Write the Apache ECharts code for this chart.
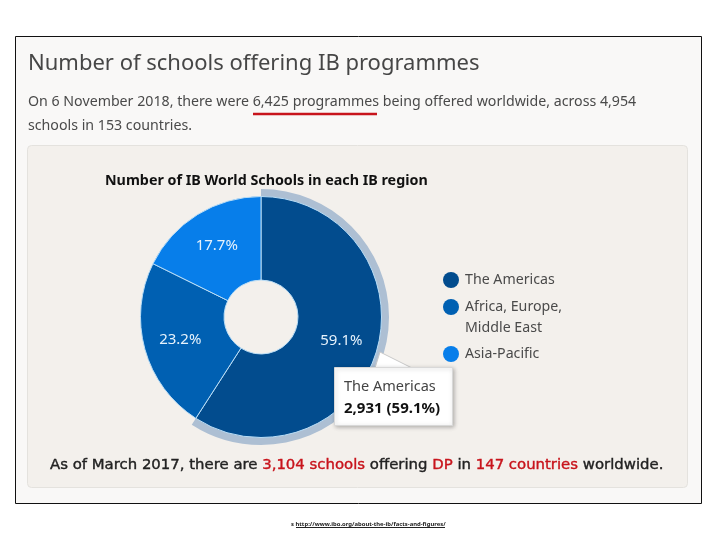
<!DOCTYPE html>
<html>
<head>
<meta charset="utf-8">
<title>IB schools</title>
<script src="https://cdn.jsdelivr.net/npm/echarts@6/dist/echarts.min.js"></script>
<style>
html, body { margin: 0; padding: 0; background: #fff; }
#chart { width: 720px; height: 540px; }
</style>
</head>
<body>
<div id="chart"></div>
<script>
var regions = ['The Americas', 'Africa, Europe, Middle East', 'Asia-Pacific'];
var shares = [59.1, 23.2, 17.7];
var colours = ['#024c8e', '#0060b2', '#077eea'];
var haloShares = [59.1, 40.9];

var uiFont = '"Noto Sans", sans-serif';
var center = [261, 317];

var sliceData = regions.map(function (name, i) {
    return { name: name, value: shares[i], itemStyle: { color: colours[i] } };
});

function txt(x, y, text, size, color, weight, extra) {
    var style = { x: x, y: y, text: text, fontFamily: uiFont, fontSize: size, fill: color, fontWeight: weight || 400, textVerticalAlign: 'middle' };
    return Object.assign({ type: 'text', style: style }, extra || { z: 1 });
}

var myChart = echarts.init(document.getElementById('chart'), null, { renderer: 'canvas' });

var legendText = { fontFamily: uiFont, fontSize: 14.2, color: '#4a4a4a', padding: [0, 0, 0, 1] };

var option = {
    animation: false,
    backgroundColor: '#ffffff',
    title: {
        text: 'Number of IB World Schools in each IB region',
        left: 105,
        top: 174,
        padding: 0,
        textStyle: { fontFamily: uiFont, fontSize: 14.3, fontWeight: 700, color: '#111111' }
    },
    legend: [
        {
            data: [regions[0], regions[1]],
            orient: 'vertical', left: 443, top: 272, padding: 0,
            icon: 'circle', itemWidth: 16, itemHeight: 16, itemGap: 11,
            itemStyle: { borderWidth: 0 },
            selectedMode: false,
            formatter: function (name) { return name.split(',').length > 1 ? 'Africa, Europe,' : name; },
            textStyle: legendText
        },
        {
            data: [regions[2]],
            orient: 'vertical', left: 443, top: 346, padding: 0,
            icon: 'circle', itemWidth: 16, itemHeight: 16,
            itemStyle: { borderWidth: 0 },
            selectedMode: false,
            textStyle: legendText
        }
    ],
    graphic: [
        // page frame and panels
        { type: 'rect', z: -3, shape: { x: 15.5, y: 36.5, width: 686, height: 467 }, style: { fill: '#f9f8f7', stroke: '#111111', lineWidth: 1 } },
        { type: 'rect', z: -2, shape: { x: 27.5, y: 145.5, width: 660, height: 342, r: 4 }, style: { fill: '#f3f0ec', stroke: '#e4e2de', lineWidth: 1 } },
        txt(28, 64, 'Number of schools offering IB programmes', 22, '#464646'),
        txt(28, 102, 'On 6 November 2018, there were 6,425 programmes being offered worldwide, across 4,954', 14.2, '#4a4a4a'),
        txt(28, 126, 'schools in 153 countries.', 14.2, '#4a4a4a'),
        { type: 'line', z: 1, shape: { x1: 253, y1: 114, x2: 377, y2: 114 }, style: { stroke: '#c8141c', lineWidth: 2.5 } },
        txt(465, 328, 'Middle East', 14.2, '#4a4a4a'),
        // callout
        { type: 'polygon', z: 20, shape: { points: [[380, 352], [412, 368], [375, 368]] }, style: { fill: '#ffffff', stroke: '#c9c9c9', lineWidth: 1 } },
        { type: 'rect', z: 21, shape: { x: 334.5, y: 367.5, width: 118, height: 58 }, style: { fill: '#ffffff', stroke: '#d8d8d8', lineWidth: 1, shadowBlur: 4, shadowColor: 'rgba(0,0,0,0.25)', shadowOffsetX: 1, shadowOffsetY: 1 } },
        txt(344, 387, 'The Americas', 14.5, '#444444', 400, { z: 22 }),
        txt(344, 409, '2,931 (59.1%)', 15, '#111111', 700, { z: 22 }),
        // bottom line
        {
            type: 'text', z: 1,
            style: {
                x: 50, y: 465, textVerticalAlign: 'middle',
                text: '{k|As of March 2017, there are }{r|3,104 schools}{k| offering }{r|DP}{k| in }{r|147 countries}{k| worldwide.}',
                rich: {
                    k: { fontFamily: '"DejaVu Sans", sans-serif', fontSize: 14.9, fill: '#222222', stroke: '#222222', lineWidth: 0.4 },
                    r: { fontFamily: '"DejaVu Sans", sans-serif', fontSize: 14.9, fill: '#c8141c', stroke: '#c8141c', lineWidth: 0.4 }
                }
            }
        },
        // source
        txt(291, 524.5, 's http://www.ibo.org/about-the-ib/facts-and-figures/', 5.9, '#222222', 700),
        { type: 'line', z: 1, shape: { x1: 296, y1: 527.5, x2: 445, y2: 527.5 }, style: { stroke: '#222222', lineWidth: 1 } }
    ],
    series: [
        {
            type: 'pie', name: 'halo', silent: true, z: 1,
            center: center, radius: [120, 128], startAngle: 90,
            label: { show: false }, labelLine: { show: false },
            data: haloShares.map(function (v, i) {
                return { value: v, itemStyle: { color: i === 0 ? '#adbfd3' : 'transparent' } };
            })
        },
        {
            type: 'pie', name: 'schools', silent: true, z: 2,
            center: center, radius: [37, 120.5], startAngle: 90,
            itemStyle: { borderColor: '#b9ddf6', borderWidth: 1 },
            label: { show: false }, labelLine: { show: false },
            data: sliceData
        },
        {
            // same shares again, no fill, only to sit the labels a bit further out
            type: 'pie', name: 'labels', silent: true, z: 3,
            center: center, radius: [41, 120.5], startAngle: 90,
            legendHoverLink: false,
            itemStyle: { color: 'transparent', borderWidth: 0 },
            label: {
                show: true, position: 'inside', formatter: '{c}%',
                fontFamily: uiFont, fontSize: 15, color: '#e6f2fc'
            },
            labelLine: { show: false },
            data: shares.map(function (v, i) { return { name: regions[i] + ' ', value: v }; })
        }
    ]
};

myChart.setOption(option);
</script>
</body>
</html>
